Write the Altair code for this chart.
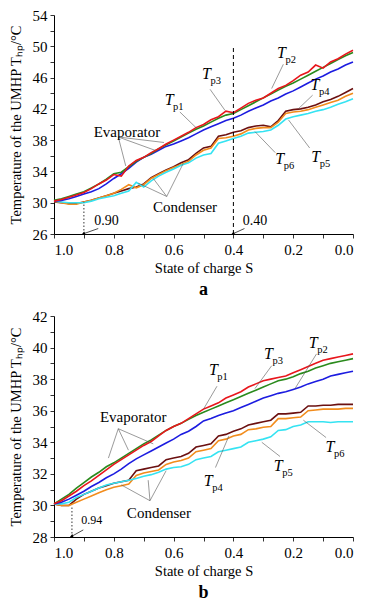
import altair as alt
import pandas as pd

SERIF = "Liberation Serif"

# ---------------- data ----------------
S = [1.0, 0.975, 0.95, 0.925, 0.9, 0.875, 0.85, 0.825, 0.8, 0.775, 0.75, 0.725, 0.7, 0.675,
     0.65, 0.625, 0.6, 0.575, 0.55, 0.525, 0.5, 0.475, 0.45, 0.425, 0.4, 0.375, 0.35, 0.325,
     0.3, 0.275, 0.25, 0.225, 0.2, 0.175, 0.15, 0.125, 0.1, 0.075, 0.05, 0.025, 0.0]

SERIES = ["Tp4", "Tp6", "Tp5", "Tp2", "Tp3", "Tp1"]
COLORS = ["#6b1010", "#f28c1c", "#35e3f2", "#1c1ce0", "#2a8a1c", "#e8161c"]

# panel a
A_TP1 = [30.2, 30.4, 30.7, 31.0, 31.3, 31.8, 32.4, 32.9, 33.6, 33.4, 34.7, 35.4, 35.8, 36.4,
         36.9, 37.5, 38.0, 38.5, 39.0, 39.6, 40.0, 40.6, 41.0, 41.7, 41.5, 42.1, 42.7, 43.1,
         43.4, 44.0, 44.6, 45.0, 45.6, 46.3, 46.7, 47.6, 47.2, 48.0, 48.4, 49.0, 49.5]
A_TP3 = [30.3, 30.5, 30.8, 31.1, 31.4, 31.9, 32.4, 33.0, 33.7, 33.9, 34.6, 35.3, 35.8, 36.3,
         36.9, 37.4, 37.9, 38.4, 38.9, 39.4, 39.8, 40.3, 40.8, 41.2, 41.4, 41.9, 42.4, 42.9,
         43.4, 43.9, 44.4, 44.9, 45.3, 45.8, 46.3, 46.8, 47.3, 47.8, 48.3, 48.8, 49.2]
A_TP2 = [30.2, 30.3, 30.5, 30.8, 31.1, 31.4, 31.8, 32.4, 33.1, 33.7, 34.4, 35.2, 35.8, 36.2,
         36.7, 37.2, 37.5, 37.9, 38.3, 38.8, 39.3, 39.7, 40.1, 40.5, 40.8, 41.2, 41.7, 42.1,
         42.5, 43.0, 43.4, 43.9, 44.3, 44.8, 45.3, 45.8, 46.2, 46.7, 47.1, 47.6, 48.0]
A_TP4 = [30.1, 30.0, 29.9, 29.9, 30.1, 30.3, 30.6, 30.9, 31.2, 31.5, 31.8, 32.0, 32.4, 33.2,
         33.7, 34.2, 34.6, 35.1, 35.5, 36.3, 37.0, 37.2, 38.5, 38.7, 39.0, 39.2, 39.6, 39.8,
         39.9, 39.7, 40.5, 41.7, 41.9, 42.0, 42.2, 42.5, 42.9, 43.2, 43.6, 44.1, 44.6]
A_TP6 = [30.2, 30.0, 29.8, 29.8, 30.1, 30.3, 30.6, 30.9, 31.2, 31.7, 32.3, 31.9, 32.3, 33.1,
         33.6, 34.1, 34.5, 34.9, 35.3, 36.1, 36.7, 37.0, 38.2, 38.3, 38.5, 38.8, 39.3, 39.5,
         39.6, 39.6, 40.3, 41.4, 41.6, 41.7, 41.9, 42.2, 42.5, 42.8, 43.1, 43.6, 44.0]
A_TP5 = [30.2, 30.1, 30.0, 30.0, 30.0, 30.2, 30.5, 30.7, 30.9, 31.2, 31.5, 32.6, 32.0, 32.8,
         33.4, 33.9, 34.3, 34.8, 35.1, 35.7, 36.1, 36.3, 37.6, 37.9, 38.2, 38.5, 38.9, 39.0,
         39.1, 39.3, 39.9, 40.7, 41.0, 41.2, 41.4, 41.7, 41.9, 42.2, 42.6, 42.9, 43.3]

# panel b
B_TP1 = [30.1, 30.3, 30.6, 30.9, 31.25, 31.55, 31.9, 32.25, 32.6, 32.9, 33.2, 33.5, 33.8, 34.05,
         34.4, 34.75, 35.0, 35.2, 35.5, 35.8, 36.1, 36.3, 36.5, 36.8, 37.0, 37.2, 37.5, 37.7,
         37.9, 38.0, 38.1, 38.2, 38.4, 38.6, 38.8, 39.0, 39.2, 39.3, 39.4, 39.5, 39.6]
B_TP3 = [30.1, 30.4, 30.7, 31.1, 31.45, 31.8, 32.1, 32.45, 32.7, 33.0, 33.3, 33.6, 33.9, 34.15,
         34.45, 34.75, 35.0, 35.2, 35.45, 35.7, 35.9, 36.1, 36.3, 36.5, 36.7, 36.9, 37.1, 37.3,
         37.5, 37.7, 37.9, 38.0, 38.15, 38.35, 38.5, 38.7, 38.85, 39.0, 39.1, 39.2, 39.3]
B_TP2 = [30.1, 30.2, 30.4, 30.65, 30.9, 31.2, 31.45, 31.75, 32.0, 32.3, 32.65, 32.95, 33.2, 33.45,
         33.7, 33.95, 34.2, 34.5, 34.7, 35.0, 35.35, 35.5, 35.7, 35.85, 36.0, 36.2, 36.4, 36.6,
         36.8, 36.95, 37.1, 37.2, 37.35, 37.5, 37.7, 37.85, 38.0, 38.2, 38.3, 38.4, 38.5]
B_TP4 = [30.1, 30.0, 30.0, 30.4, 30.7, 30.9, 31.1, 31.25, 31.4, 31.5, 31.6, 32.2, 32.3, 32.4,
         32.5, 32.9, 33.0, 33.1, 33.3, 33.7, 33.8, 33.9, 34.4, 34.5, 34.7, 34.85, 35.1, 35.2,
         35.3, 35.4, 35.8, 35.8, 35.85, 35.9, 36.3, 36.3, 36.35, 36.35, 36.4, 36.4, 36.4]
B_TP6 = [30.1, 30.0, 30.0, 30.2, 30.4, 30.6, 30.8, 31.0, 31.15, 31.25, 31.35, 31.9, 32.05, 32.15,
         32.25, 32.6, 32.75, 32.85, 33.0, 33.4, 33.5, 33.6, 34.1, 34.2, 34.4, 34.5, 34.8, 34.85,
         34.95, 35.0, 35.5, 35.5, 35.55, 35.6, 36.0, 36.05, 36.1, 36.1, 36.1, 36.15, 36.15]
B_TP5 = [30.1, 30.1, 30.2, 30.5, 30.7, 30.9, 31.1, 31.3, 31.4, 31.5, 31.6, 31.7, 31.85, 31.95,
         32.1, 32.3, 32.4, 32.45, 32.6, 32.9, 33.0, 33.1, 33.4, 33.5, 33.6, 33.7, 34.0, 34.1,
         34.2, 34.35, 34.75, 34.8, 35.0, 35.1, 35.3, 35.3, 35.3, 35.25, 35.3, 35.3, 35.3]

X_TICKS = [1.0, 0.9, 0.8, 0.7, 0.6, 0.5, 0.4, 0.3, 0.2, 0.1, 0.0]
A_Y_TICKS = [26, 28, 30, 32, 34, 36, 38, 40, 42, 44, 46, 48, 50, 52, 54]
B_Y_TICKS = [28, 29, 30, 31, 32, 33, 34, 35, 36, 37, 38, 39, 40, 41, 42]

# annotations: panel a
A_WORDS = ["Evaporator", "Condenser", "0.90", "0.40"]
A_WORDS_S = [0.756, 0.562, 0.824, 0.328]
A_WORDS_T = [39.1, 29.45, 27.7, 27.7]
A_TLAB = ["p1", "p3", "p2", "p4", "p5", "p6"]
A_TLAB_S = [0.615, 0.49, 0.239, 0.127, 0.125, 0.245]
A_TLAB_T = [43.1, 46.4, 49.2, 45.0, 35.8, 35.6]
A_LEAD_S = [0.579, 0.478, 0.233, 0.135, 0.145, 0.26, 0.785, 0.785, 0.785, 0.623, 0.623, 0.623]
A_LEAD_T = [41.6, 44.5, 47.7, 43.75, 37.0, 36.4, 38.4, 38.4, 38.4, 30.8, 30.8, 30.8]
A_LEAD_S2 = [0.525, 0.428, 0.272, 0.183, 0.216, 0.328, 0.760, 0.662, 0.632, 0.718, 0.668, 0.568]
A_LEAD_T2 = [39.6, 41.8, 44.6, 42.0, 40.6, 39.1, 34.7, 36.7, 37.7, 32.5, 33.1, 35.0]
A_ARROW_S = [0.852, 0.363]
A_ARROW_T = [26.7, 26.7]
A_ARROW_S2 = [0.9, 0.40]
A_ARROW_T2 = [26.05, 26.05]
A_VLINE_S = [0.4, 0.9]
A_VLINE_TOP = [49.8, 30.1]
A_VLINE_DASH = ["dashed", "dotted"]

# annotations: panel b
B_WORDS = ["Evaporator", "Condenser", "0.94"]
B_WORDS_S = [0.735, 0.649, 0.874]
B_WORDS_T = [35.6, 29.5, 29.07]
B_WORDS_SIZE = [15, 15, 12]
B_TLAB = ["p1", "p3", "p2", "p6", "p5", "p4"]
B_TLAB_S = [0.467, 0.283, 0.133, 0.077, 0.25, 0.484]
B_TLAB_T = [38.6, 39.6, 40.3, 33.7, 32.5, 31.55]
B_LEAD_S = [0.455, 0.272, 0.122, 0.09, 0.244, 0.46, 0.785, 0.785, 0.785, 0.679, 0.679, 0.679]
B_LEAD_T = [37.55, 38.85, 39.6, 34.3, 33.1, 32.4, 34.86, 34.86, 34.86, 30.3, 30.3, 30.3]
B_LEAD_S2 = [0.5, 0.328, 0.194, 0.166, 0.305, 0.415, 0.818, 0.751, 0.668, 0.775, 0.685, 0.625]
B_LEAD_T2 = [36.1, 37.4, 37.4, 35.4, 34.0, 34.4, 33.0, 33.5, 33.9, 31.3, 31.6, 32.2]
B_ARROW_S = [0.902]
B_ARROW_T = [28.45]
B_ARROW_S2 = [0.94]
B_ARROW_T2 = [28.05]
B_VLINE_S = [0.94]
B_VLINE_TOP = [30.0]
B_VLINE_DASH = ["dotted"]


def panel(series_vals, ydom, yticks, ylab_expr, height, words, tlabs, leads, arrows, vlines, letter):
    rows = []
    for name, vals in zip(SERIES, series_vals):
        for s, v in zip(S, vals):
            rows.append({"S": s, "T": v, "series": name})
    df = pd.DataFrame(rows)

    xs = alt.Scale(domain=[1.0, 0.0], nice=False, zero=False)
    ys = alt.Scale(domain=ydom, nice=False, zero=False)
    x_enc = alt.X("S:Q", scale=xs, axis=alt.Axis(
        values=X_TICKS, title="State of charge S",
        labelExpr="round(datum.value*10) % 2 == 0 ? format(datum.value, '.1f') : ''"))
    y_enc = alt.Y("T:Q", scale=ys, axis=alt.Axis(
        values=yticks, title="Temperature of the UMHP T\u2095\u209a/°C", labelExpr=ylab_expr))

    lines = alt.Chart(df).mark_line(strokeWidth=1.6).encode(
        x=x_enc, y=y_enc,
        color=alt.Color("series:N", scale=alt.Scale(domain=SERIES, range=COLORS), legend=None),
        order=alt.Order("S:Q", sort="descending"),
    )

    vdf = pd.DataFrame({"S": vlines[0], "T": [ydom[0]] * len(vlines[0]), "T2": vlines[1], "kind": vlines[2]})
    vdash = alt.Chart(vdf[vdf.kind == "dashed"]).mark_rule(strokeDash=[4, 3], strokeWidth=1, color="black").encode(
        x=x_enc, y=y_enc, y2="T2:Q")
    vdot = alt.Chart(vdf[vdf.kind == "dotted"]).mark_rule(strokeDash=[1.5, 2], strokeWidth=0.8, color="black").encode(
        x=x_enc, y=y_enc, y2="T2:Q")

    wdf = pd.DataFrame({"S": words[1], "T": words[2], "label": words[0], "size": words[3]})
    wtext = alt.Chart(wdf).mark_text(font=SERIF, color="black", baseline="middle").encode(
        x=x_enc, y=y_enc, text="label:N", size=alt.Size("size:Q", scale=None, legend=None))

    tdf = pd.DataFrame({"S": tlabs[1], "T": tlabs[2], "sub": tlabs[0], "main": ["T"] * len(tlabs[0])})
    ttext = alt.Chart(tdf).mark_text(font=SERIF, fontStyle="italic", fontSize=16, color="black",
                                     baseline="middle").encode(x=x_enc, y=y_enc, text="main:N")
    stext = alt.Chart(tdf).mark_text(font=SERIF, fontSize=10.5, color="black", align="left",
                                     baseline="middle", dx=4, dy=7).encode(x=x_enc, y=y_enc, text="sub:N")

    ldf = pd.DataFrame({"S": leads[0], "T": leads[1], "S2": leads[2], "T2": leads[3]})
    lrule = alt.Chart(ldf).mark_rule(strokeWidth=0.6, color="#555555").encode(
        x=x_enc, y=y_enc, x2="S2:Q", y2="T2:Q")

    adf = pd.DataFrame({"S": arrows[0], "T": arrows[1], "S2": arrows[2], "T2": arrows[3]})
    arule = alt.Chart(adf).mark_rule(strokeWidth=0.7, color="black").encode(
        x=x_enc, y=y_enc, x2="S2:Q", y2="T2:Q")
    hdf = pd.DataFrame({"S": arrows[2], "T": arrows[3]})
    ahead = alt.Chart(hdf).mark_point(shape="triangle", filled=True, size=14, angle=250,
                                      color="black", opacity=1).encode(x=x_enc, y=y_enc)

    return alt.layer(lines, vdash, vdot, lrule, arule, ahead, wtext, ttext, stext).properties(
        width=299, height=height,
        title=alt.TitleParams(letter, orient="bottom", font=SERIF, fontSize=18, fontWeight="bold",
                              color="black", offset=6, anchor="middle"),
    )


panel_a = panel(
    [A_TP4, A_TP6, A_TP5, A_TP2, A_TP3, A_TP1], [26, 54], A_Y_TICKS,
    "(datum.value - 26) % 4 == 0 ? format(datum.value, 'd') : ''", 219,
    (A_WORDS, A_WORDS_S, A_WORDS_T, [15, 15, 14, 14]),
    (A_TLAB, A_TLAB_S, A_TLAB_T),
    (A_LEAD_S, A_LEAD_T, A_LEAD_S2, A_LEAD_T2),
    (A_ARROW_S, A_ARROW_T, A_ARROW_S2, A_ARROW_T2),
    (A_VLINE_S, A_VLINE_TOP, A_VLINE_DASH), "a")

panel_b = panel(
    [B_TP4, B_TP6, B_TP5, B_TP2, B_TP3, B_TP1], [28, 42], B_Y_TICKS,
    "datum.value % 2 == 0 ? format(datum.value, 'd') : ''", 221,
    (B_WORDS, B_WORDS_S, B_WORDS_T, B_WORDS_SIZE),
    (B_TLAB, B_TLAB_S, B_TLAB_T),
    (B_LEAD_S, B_LEAD_T, B_LEAD_S2, B_LEAD_T2),
    (B_ARROW_S, B_ARROW_T, B_ARROW_S2, B_ARROW_T2),
    (B_VLINE_S, B_VLINE_TOP, B_VLINE_DASH), "b")

chart = alt.vconcat(panel_a, panel_b, spacing=10).properties(
    padding={"left": 0, "top": 0, "right": 4, "bottom": 0}
).configure_view(stroke=None).configure_axis(
    grid=False, domainColor="black", tickColor="black", tickSize=4, tickWidth=0.8, domainWidth=1,
    labelFont=SERIF, labelFontSize=15, labelColor="black", labelPadding=3,
    titleFont=SERIF, titleFontSize=14.5, titleFontWeight="normal", titleColor="black",
).configure_axisX(titlePadding=4, labelPadding=4).configure_axisY(titlePadding=9)

chart.save("out.html", embed_options={"renderer": "svg", "actions": False})
